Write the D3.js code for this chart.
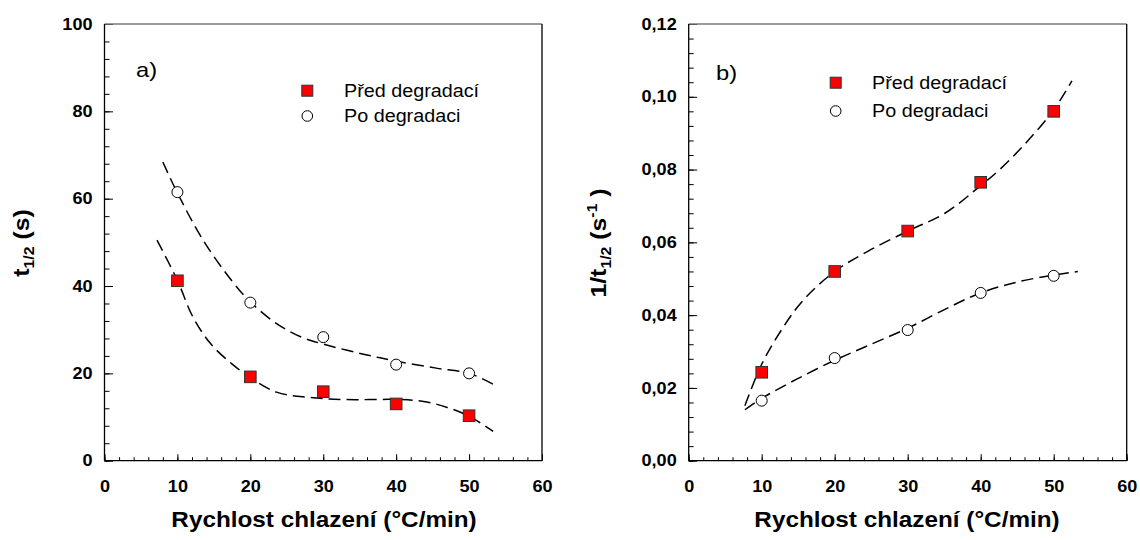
<!DOCTYPE html>
<html>
<head>
<meta charset="utf-8">
<script src="https://cdn.jsdelivr.net/npm/d3@7"></script>
<style>
  body { margin: 0; background: #fff; }
  svg { display: block; font-family: "Liberation Sans", Arial, sans-serif; }
</style>
</head>
<body>
<svg id="chart"></svg>
<script>
// data
const rates = [10, 20, 30, 40, 50]
const t12Pred = [41.2, 19.2, 15.8, 13.0, 10.3]
const t12Po = [61.5, 36.2, 28.3, 22.0, 20.0]
const invPred = [0.0243, 0.0520, 0.0631, 0.0765, 0.0960]
const invPo = [0.0165, 0.0282, 0.0359, 0.0461, 0.0508]

// dashed fit curves
const fitAPoX = [8.0, 10, 13.6, 17.6, 20.1, 23.6, 27, 30, 35.5, 40, 45.5, 50, 53.3]
const fitAPoY = [68.4, 61.3, 50.3, 40.9, 36.2, 31.4, 28.3, 26.7, 24.4, 22.8, 21.2, 20.0, 17.5]
const fitAPredX = [7.2, 10, 12.1, 14.6, 17.6, 20.1, 23.6, 28, 33, 40.5, 44, 47, 50, 53.3]
const fitAPredY = [50.5, 41.3, 33.0, 26.7, 22.0, 18.9, 15.7, 14.5, 14.0, 14.0, 13.5, 12.2, 10.2, 6.7]
const fitBPredX = [7.7, 10, 12.7, 15.6, 20, 24.6, 30, 35.1, 40, 42.5, 46, 50, 52.5]
const fitBPredY = [0.0151, 0.0265, 0.0359, 0.0439, 0.052, 0.0576, 0.0631, 0.068, 0.0756, 0.0798, 0.0869, 0.0964, 0.1044]
const fitBPoX = [7.7, 9.9, 14.6, 20, 25.1, 30, 35.1, 40, 45, 50, 53.3]
const fitBPoY = [0.0140, 0.0170, 0.0222, 0.0276, 0.0321, 0.0364, 0.0416, 0.0461, 0.0491, 0.051, 0.052]

const xTicks = [0, 10, 20, 30, 40, 50, 60]
const yTicksA = [0, 20, 40, 60, 80, 100]
const yTicksB = [0, 0.02, 0.04, 0.06, 0.08, 0.10, 0.12]
const legendNames = ['Před degradací', 'Po degradaci']
const xTitle = 'Rychlost chlazení (°C/min)'

let width = 1140
let height = 540
let svg = d3.select('#chart').attr('width', width).attr('height', height)

const SX = 1.13   // text in the original is a bit wider than Arial
const plotTop = 24, plotBottom = 460.7

const czFormat = d3.formatLocale({decimal: ',', thousands: ' ', grouping: [3], currency: ['', '']}).format('.2f')

let panels = [
    {
        left: 104.5, right: 542, yDomain: [0, 100], yTicks: yTicksA, yMinor: d3.range(0, 100.01, 4),
        yFmt: d3.format('d'), pred: t12Pred, po: t12Po,
        fitPred: [fitAPredX, fitAPredY], fitPo: [fitAPoX, fitAPoY],
        tag: 'a)', tagX: 136, tagY: 77,
        legX: 307.3, legY: [90.7, 116], legTextX: 344,
        yTitleX: 29, xTitleX: 324
    },
    {
        left: 688.7, right: 1126.7, yDomain: [0, 0.12], yTicks: yTicksB, yMinor: d3.range(0, 0.1201, 0.004),
        yFmt: czFormat, pred: invPred, po: invPo,
        fitPred: [fitBPredX, fitBPredY], fitPo: [fitBPoX, fitBPoY],
        tag: 'b)', tagX: 716, tagY: 80,
        legX: 835.7, legY: [82.7, 111], legTextX: 872,
        yTitleX: 606, xTitleX: 907
    }
]

panels.forEach((p, pi) => {
    let g = svg.append('g')

    let xScale = d3.scaleLinear().domain([0, 60]).range([p.left, p.right])
    let yScale = d3.scaleLinear().domain(p.yDomain).range([plotBottom, plotTop])

    // minor ticks
    g.append('g')
        .attr('transform', 'translate(0,' + plotBottom + ')')
        .call(d3.axisBottom(xScale).tickValues(d3.range(0, 60.01, 2)).tickSize(-3.5).tickSizeOuter(0).tickFormat(''))
        .call(a => a.select('.domain').remove())
    g.append('g')
        .attr('transform', 'translate(' + p.left + ',0)')
        .call(d3.axisLeft(yScale).tickValues(p.yMinor).tickSize(-5).tickSizeOuter(0).tickFormat(''))
        .call(a => a.select('.domain').remove())

    // major ticks + labels
    let xAxis = g.append('g')
        .attr('transform', 'translate(0,' + plotBottom + ')')
        .call(d3.axisBottom(xScale).tickValues(xTicks).tickSize(-6.5).tickSizeOuter(0).tickPadding(20))
    xAxis.select('.domain').remove()
    xAxis.selectAll('text')
        .attr('font-size', 16).attr('font-weight', 'bold').attr('font-family', 'Liberation Sans, Arial, sans-serif')
        .attr('fill', '#000')
        .attr('transform', 'scale(' + SX + ',1)')

    let yAxis = g.append('g')
        .attr('transform', 'translate(' + p.left + ',0)')
        .call(d3.axisLeft(yScale).tickValues(p.yTicks).tickSize(-8.5).tickSizeOuter(0).tickFormat(p.yFmt))
    yAxis.select('.domain').remove()
    yAxis.selectAll('text')
        .attr('x', 0)
        .attr('font-size', 16).attr('font-weight', 'bold').attr('font-family', 'Liberation Sans, Arial, sans-serif')
        .attr('fill', '#000')
        .attr('transform', 'translate(-12,0) scale(' + SX + ',1)')

    g.selectAll('.tick line').attr('stroke', '#000').attr('stroke-width', 1)

    // frame
    g.append('line').attr('x1', p.left).attr('x2', p.right).attr('y1', plotTop).attr('y2', plotTop)
        .attr('stroke', '#7a7a7a').attr('stroke-width', 1.3)
    g.append('line').attr('x1', p.left).attr('x2', p.left).attr('y1', plotTop).attr('y2', plotBottom)
        .attr('stroke', '#000').attr('stroke-width', 1.3)
    g.append('line').attr('x1', p.right).attr('x2', p.right).attr('y1', plotTop).attr('y2', plotBottom)
        .attr('stroke', '#000').attr('stroke-width', 1.3)
    g.append('line').attr('x1', p.left).attr('x2', p.right).attr('y1', plotBottom).attr('y2', plotBottom)
        .attr('stroke', '#000').attr('stroke-width', 1.3)

    // dashed fits
    let line = d3.line()
        .x(d => xScale(d[0]))
        .y(d => yScale(d[1]))
        .curve(d3.curveCatmullRom)
    ;[p.fitPred, p.fitPo].forEach(f => {
        g.append('path')
            .datum(d3.zip(f[0], f[1]))
            .attr('d', line)
            .attr('fill', 'none')
            .attr('stroke', '#000')
            .attr('stroke-width', 1.5)
            .attr('stroke-dasharray', '12,6')
    })

    // markers
    g.selectAll('circle.po')
        .data(d3.zip(rates, p.po))
        .enter()
        .append('circle')
        .attr('class', 'po')
        .attr('cx', d => xScale(d[0]))
        .attr('cy', d => yScale(d[1]))
        .attr('r', 5.5)
        .attr('fill', '#fff')
        .attr('stroke', '#000')
        .attr('stroke-width', 1)
    g.selectAll('rect.pred')
        .data(d3.zip(rates, p.pred))
        .enter()
        .append('rect')
        .attr('class', 'pred')
        .attr('x', d => xScale(d[0]) - 5.8)
        .attr('y', d => yScale(d[1]) - 5.8)
        .attr('width', 11.6)
        .attr('height', 11.6)
        .attr('fill', '#ff0000')
        .attr('stroke', '#333')
        .attr('stroke-width', 1)

    // legend
    g.append('rect')
        .attr('x', p.legX - 5.5).attr('y', p.legY[0] - 5.5)
        .attr('width', 11).attr('height', 11)
        .attr('fill', '#ff0000').attr('stroke', '#333').attr('stroke-width', 1)
    g.append('circle')
        .attr('cx', p.legX).attr('cy', p.legY[1]).attr('r', 5.3)
        .attr('fill', '#fff').attr('stroke', '#000').attr('stroke-width', 1)
    legendNames.forEach((name, i) => {
        g.append('text')
            .attr('transform', 'translate(' + p.legTextX + ',' + (p.legY[i] + 6.3) + ') scale(' + SX + ',1)')
            .attr('font-size', 17.5)
            .attr('fill', '#000')
            .text(name)
    })

    // panel tag
    g.append('text')
        .attr('transform', 'translate(' + p.tagX + ',' + p.tagY + ') scale(' + SX + ',1)')
        .attr('font-size', 21)
        .attr('fill', '#000')
        .text(p.tag)

    // x title
    g.append('text')
        .attr('transform', 'translate(' + p.xTitleX + ',527) scale(' + SX + ',1)')
        .attr('text-anchor', 'middle')
        .attr('font-size', 21.5)
        .attr('font-weight', 'bold')
        .attr('fill', '#000')
        .text(xTitle)

    // y title
    let yt = g.append('text')
        .attr('transform', 'translate(' + p.yTitleX + ',243) rotate(-90) scale(' + SX + ',1)')
        .attr('text-anchor', 'middle')
        .attr('font-size', 22)
        .attr('font-weight', 'bold')
        .attr('fill', '#000')
    if (pi === 0) {
        yt.append('tspan').text('t')
        yt.append('tspan').attr('font-size', 14).attr('dy', 5).text('1/2')
        yt.append('tspan').attr('dy', -5).text(' (s)')
    } else {
        yt.append('tspan').text('1/t')
        yt.append('tspan').attr('font-size', 14).attr('dy', 5).text('1/2')
        yt.append('tspan').attr('dy', -5).text(' (s')
        yt.append('tspan').attr('font-size', 14).attr('dy', -9).text('-1')
        yt.append('tspan').attr('dy', 9).text(' )')
    }
})
</script>
</body>
</html>
